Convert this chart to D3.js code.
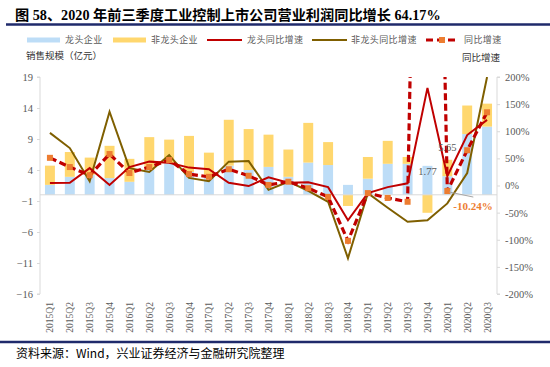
<!DOCTYPE html>
<html><head><meta charset="utf-8">
<script src="https://cdn.jsdelivr.net/npm/d3@7"></script>
<style>
body{margin:0;background:#fff;}
svg{display:block;}
</style></head>
<body>
<svg id="c" width="550" height="367"></svg>
<script>
const categories = ["2015Q1","2015Q2","2015Q3","2015Q4","2016Q1","2016Q2","2016Q3","2016Q4","2017Q1","2017Q2","2017Q3","2017Q4","2018Q1","2018Q2","2018Q3","2018Q4","2019Q1","2019Q2","2019Q3","2019Q4","2020Q1","2020Q2","2020Q3"];
const leaderSales = [1.6,2.9,3.2,2.7,2.1,4.0,5.1,3.7,3.2,4.7,4.0,4.5,2.9,5.2,4.8,1.6,2.6,5.0,5.0,4.67,3.0,9.8,11.0];
const nonLeaderSales = [3.1,4.0,2.8,5.2,3.7,5.3,3.8,5.8,3.6,7.4,6.6,5.2,4.4,6.4,3.7,-1.8,3.5,3.7,1.1,-2.9,2.65,4.6,3.7];
const leaderGrowth = [4.6,5,32,1,34,44,42,33,30,5,-1,15,5,6,-3,-64,-14,-3,4,180,17,93,121];
const nonLeaderGrowth = [97,69,8,136,32,25,56,14,8,44,45,-8,7,-10,-30,-134,-14,-41,-67,-64,-33,23,200];
const totalGrowth = [51,34,19,58,23,34,47,21,16,30,18,1,7,-5,-21,-102,-14,-23,-30,1800,-10.24,65,135];
const leftTicks = [19,14,9,4,-1,-6,-11,-16];
const rightTicks = [200,150,100,50,0,-50,-100,-150,-200];
const totalLabels = [{i:19,text:"1.77"},{i:20,text:"5.65"}];
const calloutIndex = 20, calloutText = "-10.24%";

const svg = d3.select("#c");
const serif = "'Liberation Serif','Noto Sans CJK SC',serif";
const cjk = "'Noto Sans CJK SC','Liberation Serif',sans-serif";
const gray = "#595959";
const L=40, R=497, T=77, B=294;

// title
svg.append("text").attr("x",15).attr("y",19.5).attr("font-family",serif).attr("font-weight","bold").attr("font-size",14.2).attr("fill","#000")
  .text("图 58、2020 年前三季度工业控制上市公司营业利润同比增长 64.17%");
svg.append("line").attr("x1",6).attr("x2",550).attr("y1",24.5).attr("y2",24.5).attr("stroke","#1F2A6B").attr("stroke-width",2.5);
svg.append("line").attr("x1",0).attr("x2",550).attr("y1",342).attr("y2",342).attr("stroke","#1F2A6B").attr("stroke-width",2.5);
svg.append("text").attr("x",16).attr("y",358).attr("font-family",cjk).attr("font-size",12).attr("fill","#000")
  .text("资料来源：Wind，兴业证券经济与金融研究院整理");

const x = d3.scaleBand().domain(categories).range([L,R]).paddingInner(0.5).paddingOuter(0.25);
const xc = c => x(c)+x.bandwidth()/2;
const yL = d3.scaleLinear().domain([-16,19]).range([B,T]);
const yR = d3.scaleLinear().domain([-200,200]).range([B,T]);

// axes
const axL = svg.append("g").attr("transform",`translate(${L},0)`).call(d3.axisLeft(yL).tickValues(leftTicks).tickSize(3).tickPadding(4));
const axR = svg.append("g").attr("transform",`translate(${R},0)`).call(d3.axisRight(yR).tickValues(rightTicks).tickSize(3).tickPadding(5).tickFormat(d=>d+"%"));
[axL,axR].forEach(a=>{
  a.select(".domain").attr("stroke","#D9D9D9");
  a.selectAll(".tick line").attr("stroke","#D9D9D9");
  a.selectAll("text").attr("font-family",serif).attr("font-size",10.5).attr("fill",gray);
});
axL.select(".domain").attr("d",`M-3,${T}H0V${B}H-3`);
axR.select(".domain").attr("d",`M3,${T}H0V${B}H3`);

svg.append("text").attr("x",26).attr("y",59).attr("font-family",cjk).attr("font-size",9.5).attr("fill","#333").text("销售规模（亿元）");
svg.append("text").attr("x",462).attr("y",61).attr("font-family",cjk).attr("font-size",9.5).attr("fill","#333").text("同比增速");

// bars
const gb = svg.append("g");
categories.forEach((c,i)=>{
  const a = leaderSales[i], b = nonLeaderSales[i];
  gb.append("rect").attr("x",x(c)).attr("width",x.bandwidth()).attr("y",yL(Math.max(a,0))).attr("height",Math.abs(yL(a)-yL(0))).attr("fill","#BDDDF7");
  let y0, y1;
  if (b>=0){ y0 = Math.max(a,0); y1 = y0+b; } else { y0 = Math.min(a,0); y1 = y0+b; }
  gb.append("rect").attr("x",x(c)).attr("width",x.bandwidth()).attr("y",yL(Math.max(y0,y1))).attr("height",Math.abs(yL(y0)-yL(y1))).attr("fill","#FFD76E");
});

// x labels
categories.forEach(c=>{
  svg.append("text").attr("transform",`translate(${xc(c)+3.5},302) rotate(-90)`).attr("text-anchor","end")
    .attr("font-family",serif).attr("font-size",9.5).attr("fill",gray).text(c);
});

// zero line
svg.append("line").attr("x1",L).attr("x2",R).attr("y1",yL(0)).attr("y2",yL(0)).attr("stroke","#D9D9D9").attr("stroke-width",1);

// lines
svg.append("clipPath").attr("id","clip").append("rect").attr("x",L).attr("y",T).attr("width",R-L+10).attr("height",B-T);
const gl = svg.append("g").attr("clip-path","url(#clip)");
const line = d3.line().x((d,i)=>xc(categories[i])).y(d=>yR(d));
gl.append("path").datum(nonLeaderGrowth).attr("d",line).attr("fill","none").attr("stroke","#7F5F00").attr("stroke-width",2);
gl.append("path").datum(leaderGrowth).attr("d",line).attr("fill","none").attr("stroke","#C00000").attr("stroke-width",2);
gl.append("path").datum(totalGrowth).attr("d",line).attr("fill","none").attr("stroke","#C00000").attr("stroke-width",3.2).attr("stroke-dasharray","7,3.5");
totalGrowth.forEach((v,i)=>{
  gl.append("rect").attr("x",xc(categories[i])-3).attr("y",yR(v)-3).attr("width",6).attr("height",6).attr("fill","#ED7D31");
});

// data labels
totalLabels.forEach(d=>{
  const tot = leaderSales[d.i]+nonLeaderSales[d.i];
  svg.append("text").attr("x",xc(categories[d.i])).attr("y",yL(tot)-9).attr("text-anchor","middle").attr("font-family",serif).attr("font-size",10.5).attr("fill",gray).text(d.text);
});
const cx0 = xc(categories[calloutIndex]), cy0 = yR(totalGrowth[calloutIndex]);
svg.append("line").attr("x1",cx0+2).attr("y1",cy0+1).attr("x2",cx0+26).attr("y2",cy0+6).attr("stroke","#A6A6A6").attr("stroke-width",1);
svg.append("text").attr("x",cx0+6).attr("y",cy0+19).attr("font-family",serif).attr("font-weight","bold").attr("font-size",11).attr("fill","#ED7D31").text(calloutText);

// legend
const lg = svg.append("g").attr("font-family",cjk).attr("font-size",9).attr("fill",gray);
const ly = 40;
lg.append("rect").attr("x",27).attr("y",ly-2.5).attr("width",33).attr("height",5).attr("fill","#BDDDF7");
lg.append("text").attr("x",65).attr("y",ly+3).text("龙头企业").attr("letter-spacing",0.4);
lg.append("rect").attr("x",113).attr("y",ly-2.5).attr("width",33).attr("height",5).attr("fill","#FFD76E");
lg.append("text").attr("x",151).attr("y",ly+3).text("非龙头企业").attr("letter-spacing",0.4);
lg.append("line").attr("x1",207).attr("x2",242).attr("y1",ly).attr("y2",ly).attr("stroke","#C00000").attr("stroke-width",2);
lg.append("text").attr("x",247).attr("y",ly+3).text("龙头同比增速").attr("letter-spacing",0.4);
lg.append("line").attr("x1",312).attr("x2",347).attr("y1",ly).attr("y2",ly).attr("stroke","#7F5F00").attr("stroke-width",2);
lg.append("text").attr("x",351).attr("y",ly+3).text("非龙头同比增速").attr("letter-spacing",0.4);
lg.append("line").attr("x1",426).attr("x2",457).attr("y1",ly).attr("y2",ly).attr("stroke","#C00000").attr("stroke-width",3).attr("stroke-dasharray","7,4");
lg.append("rect").attr("x",439).attr("y",ly-3).attr("width",6).attr("height",6).attr("fill","#ED7D31");
lg.append("text").attr("x",464).attr("y",ly+3).text("同比增速").attr("letter-spacing",0.4);
</script>
</body></html>
